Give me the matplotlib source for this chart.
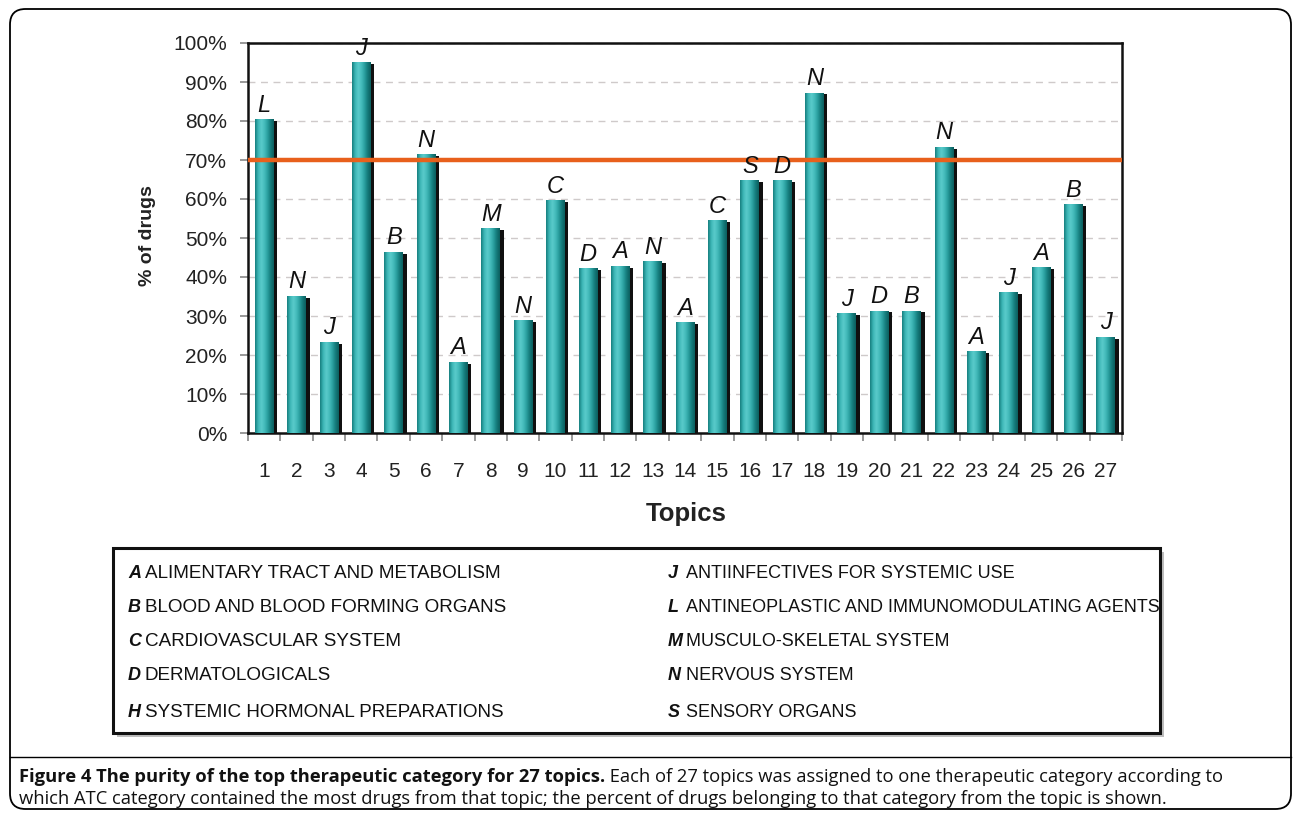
import numpy as np
import matplotlib
matplotlib.use("Agg")
import matplotlib.pyplot as plt
from matplotlib.colors import LinearSegmentedColormap
from matplotlib.patches import FancyBboxPatch, Rectangle
from matplotlib.lines import Line2D

# ---------------- data ----------------
topics = list(range(1, 28))
purity = [80.5, 35.2, 23.4, 95.1, 46.5, 71.5, 18.3, 52.6, 28.9, 59.7,
          42.3, 42.9, 44.1, 28.5, 54.6, 64.9, 64.9, 87.3, 30.7, 31.4,
          31.4, 73.4, 21.0, 36.1, 42.5, 58.6, 24.7]
category = ["L", "N", "J", "J", "B", "N", "A", "M", "N", "C",
            "D", "A", "N", "A", "C", "S", "D", "N", "J", "D",
            "B", "N", "A", "J", "A", "B", "J"]
threshold = 70
yticks = [0, 10, 20, 30, 40, 50, 60, 70, 80, 90, 100]

legend_left_codes = ["A", "B", "C", "D", "H"]
legend_left_names = ["ALIMENTARY TRACT AND METABOLISM", "BLOOD AND BLOOD FORMING ORGANS",
                     "CARDIOVASCULAR SYSTEM", "DERMATOLOGICALS",
                     "SYSTEMIC HORMONAL PREPARATIONS"]
legend_right_codes = ["J", "L", "M", "N", "S"]
legend_right_names = ["ANTIINFECTIVES FOR SYSTEMIC USE",
                      "ANTINEOPLASTIC AND IMMUNOMODULATING AGENTS",
                      "MUSCULO-SKELETAL SYSTEM", "NERVOUS SYSTEM", "SENSORY ORGANS"]

caption_bold = "Figure 4 The purity of the top therapeutic category for 27 topics."
caption_rest1 = (" Each of 27 topics was assigned to one therapeutic category according to")
caption_line2 = ("which ATC category contained the most drugs from that topic; the percent of drugs "
                 "belonging to that category from the topic is shown.")

# ---------------- figure ----------------
W, H = 1295, 813
fig = plt.figure(figsize=(W / 100, H / 100), dpi=100)
fig.patch.set_facecolor("white")

def fx(px):
    return px / W

def fy(py):
    return 1 - py / H

sans = ["Liberation Sans", "DejaVu Sans"]

# outer rounded frame
frame = FancyBboxPatch((fx(10), fy(809)), fx(1291) - fx(10), fy(9) - fy(809),
                       boxstyle="round,pad=0,rounding_size=0.012",
                       transform=fig.transFigure, fill=False, ec="black", lw=1.3,
                       mutation_aspect=W / H)
fig.patches.append(frame)
fig.add_artist(Line2D([fx(10), fx(1291)], [fy(757), fy(757)], transform=fig.transFigure,
                      color="black", lw=1.0))

# ---------------- axes ----------------
ax = fig.add_axes([fx(248), fy(433), fx(1122) - fx(248), fy(43) - fy(433)])
x = np.array(topics, dtype=float)
vals = np.array(purity)
bw = 0.58

# shadow bars
ax.bar(x + 0.11, vals - 0.5, width=bw, color="#101010", zorder=2)
bars = ax.bar(x, vals, width=bw, color="#2aa5a5", zorder=3)

cyl = LinearSegmentedColormap.from_list(
    "cyl", ["#157d7d", "#3cb6b6", "#5acbcb", "#45bcbc", "#2a9f9f", "#147a7a", "#0b5d5d"])
grad = np.linspace(0, 1, 128).reshape(1, -1)
for p in bars:
    x0, y0, w, h = p.get_x(), p.get_y(), p.get_width(), p.get_height()
    im = ax.imshow(grad, cmap=cyl, extent=[x0, x0 + w, y0, y0 + h], aspect="auto",
                   zorder=3.5, interpolation="bicubic")
    im.set_clip_path(p)

for xi, v, c in zip(x, vals, category):
    ax.text(xi, v + 0.6, c, ha="center", va="bottom", fontsize=17, style="italic",
            family=sans, color="#111111", zorder=5)

ax.axhline(threshold, color="#e8601c", lw=3.2, zorder=4)

ax.set_xlim(0.5, 27.5)
ax.set_ylim(0, 100)
ax.set_yticks(yticks)
ax.set_yticklabels([f"{t}%" for t in yticks], fontsize=15, family=sans, color="#222222")
ax.yaxis.grid(True, linestyle=(0, (5, 4)), color="#cfcaca", lw=1.0, zorder=0)
ax.set_axisbelow(True)
ax.tick_params(axis="y", length=6, width=1.2, color="#888888", pad=9)

ax.set_xticks(x)
ax.set_xticklabels([str(t) for t in topics], fontsize=15, family=sans, color="#222222")
ax.tick_params(axis="x", which="major", length=0, pad=21)
ax.set_xticks(np.arange(0.5, 28.0, 1.0), minor=True)
ax.tick_params(axis="x", which="minor", length=6, width=1.2, color="#888888", direction="out")

for s in ax.spines.values():
    s.set_color("#111111")
    s.set_linewidth(1.8)

fig.text(fx(147), fy(236), "% of drugs", rotation=90, ha="center", va="center",
         fontsize=14, fontweight="bold", family=sans, color="#222222")
fig.text(fx(686), fy(514), "Topics", ha="center", va="center",
         fontsize=18.5, fontweight="bold", family=sans, color="#222222")

# ---------------- category legend box ----------------
lx0, ly0, lx1, ly1 = 113, 548, 1160, 733
fig.add_artist(Rectangle((fx(lx0 + 4), fy(ly1 + 4)), fx(lx1) - fx(lx0), fy(ly0) - fy(ly1),
                         transform=fig.transFigure, fc="#bdbdbd", ec="none", zorder=1))
fig.add_artist(Rectangle((fx(lx0), fy(ly1)), fx(lx1) - fx(lx0), fy(ly0) - fy(ly1),
                         transform=fig.transFigure, fc="white", ec="#111111", lw=2.2, zorder=2))
rows_y = [573, 607, 641, 676, 712]
for ry, code, name in zip(rows_y, legend_left_codes, legend_left_names):
    fig.text(fx(128), fy(ry), code, ha="left", va="center", fontsize=13, fontweight="bold",
             style="italic", family=sans, color="#111111", zorder=3)
    fig.text(fx(145), fy(ry), name, ha="left", va="center", fontsize=13.6,
             family=sans, color="#111111", zorder=3)
for ry, code, name in zip(rows_y, legend_right_codes, legend_right_names):
    fig.text(fx(668), fy(ry), code, ha="left", va="center", fontsize=13, fontweight="bold",
             style="italic", family=sans, color="#111111", zorder=3)
    fig.text(fx(686), fy(ry), name, ha="left", va="center", fontsize=13.0,
             family=sans, color="#111111", zorder=3)

# ---------------- caption ----------------
cap_font = ["Open Sans", "DejaVu Sans"]
cap_size = 13.2
t1 = fig.text(fx(19), fy(777), caption_bold, ha="left", va="center", fontsize=cap_size,
              fontweight="bold", family=cap_font, color="#111111")
fig.canvas.draw()
bb = t1.get_window_extent()
fig.text(bb.x1 / W, fy(777), caption_rest1, ha="left", va="center", fontsize=cap_size,
         family=cap_font, color="#111111")
fig.text(fx(19), fy(799), caption_line2, ha="left", va="center", fontsize=cap_size,
         family=cap_font, color="#111111")

fig.savefig("out.png", dpi=100)
